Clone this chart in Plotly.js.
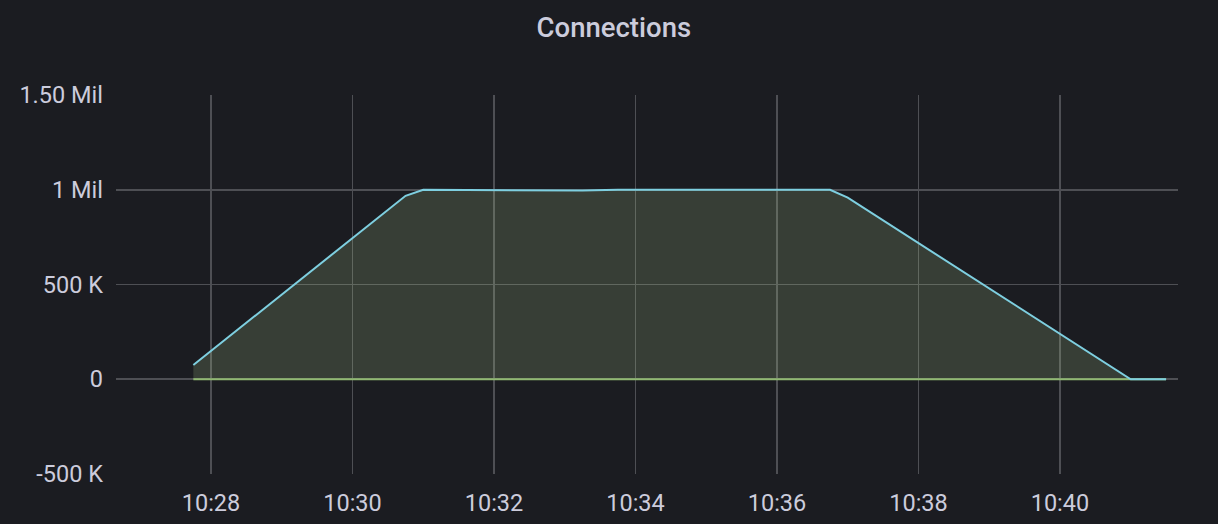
<!DOCTYPE html>
<html>
<head>
<meta charset="utf-8">
<script src="https://cdn.plot.ly/plotly-3.0.1.min.js"></script>
<style>
html,body{margin:0;padding:0;background:#1b1c21;}
#chart{width:1218px;height:524px;}
</style>
</head>
<body>
<div id="chart"></div>
<script>
// Data
var times = ['2024-01-01 10:27:45','2024-01-01 10:30:45','2024-01-01 10:31:00','2024-01-01 10:33:00','2024-01-01 10:33:15','2024-01-01 10:33:45','2024-01-01 10:36:45','2024-01-01 10:37:00','2024-01-01 10:41:00','2024-01-01 10:41:30'];
var connections = [75000, 968000, 1000000, 998000, 996000, 1000000, 1000000, 958000, 0, 0];
var zeroTimes = ['2024-01-01 10:27:45','2024-01-01 10:41:30'];
var zeroSeries = [0, 0];
var yTickVals = [-500000, 0, 500000, 1000000, 1500000];
var yTickText = ['-500 K', '0', '500 K', '1 Mil', '1.50 Mil'];

var textColor = '#ccccdc';
var gridColor = '#4e4f54';
var blue = '#7ecfe0';
var green = '#90b872';

var traces = [
  {x: times, y: connections, type: 'scatter', mode: 'lines', fill: 'tozeroy',
   fillcolor: 'rgba(170,198,140,0.2)', line: {width: 0, color: blue}, hoverinfo: 'skip', showlegend: false},
  {x: zeroTimes, y: zeroSeries, type: 'scatter', mode: 'lines',
   line: {width: 2, color: green}, showlegend: false},
  {x: times, y: connections, type: 'scatter', mode: 'lines',
   line: {width: 2, color: blue}, showlegend: false}
];

var layout = {
  width: 1218, height: 524,
  paper_bgcolor: '#1b1c21', plot_bgcolor: '#1b1c21',
  margin: {l: 116, r: 40, t: 95, b: 50},
  font: {family: 'Roboto, sans-serif', color: textColor, size: 23},
  title: {text: 'Connections', x: 0.504, xanchor: 'center', y: 0.947, yanchor: 'middle',
          font: {family: 'Roboto, sans-serif', size: 27.5, color: textColor, weight: 500}},
  xaxis: {
    type: 'date',
    range: ['2024-01-01 10:26:39.4', '2024-01-01 10:41:40.1'],
    tick0: '2024-01-01 10:28:00', dtick: 120000, tickformat: '%H:%M',
    showgrid: true, gridcolor: gridColor, gridwidth: 1.6,
    zeroline: false, showline: false, ticks: '',
    ticklabelstandoff: 12,
    tickfont: {size: 23.5, color: textColor}
  },
  yaxis: {
    range: [-500000, 1500000],
    tickvals: yTickVals, ticktext: yTickText,
    showgrid: true, gridcolor: gridColor, gridwidth: 1.6,
    zeroline: false, showline: false, ticks: '',
    ticklabelstandoff: 12,
    tickfont: {size: 23.5, color: textColor}
  }
};

Plotly.newPlot('chart', traces, layout, {displayModeBar: false, staticPlot: true});
</script>
</body>
</html>
